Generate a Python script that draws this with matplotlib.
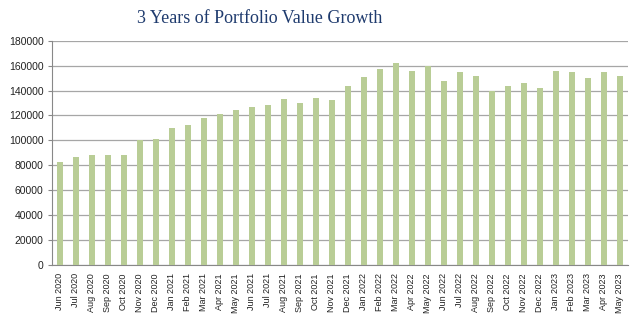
import matplotlib
matplotlib.use("Agg")
import matplotlib.pyplot as plt

# monthly portfolio value, Jun 2020 - May 2023
months = ["Jun 2020", "Jul 2020", "Aug 2020", "Sep 2020", "Oct 2020", "Nov 2020", "Dec 2020",
          "Jan 2021", "Feb 2021", "Mar 2021", "Apr 2021", "May 2021", "Jun 2021", "Jul 2021",
          "Aug 2021", "Sep 2021", "Oct 2021", "Nov 2021", "Dec 2021",
          "Jan 2022", "Feb 2022", "Mar 2022", "Apr 2022", "May 2022", "Jun 2022", "Jul 2022",
          "Aug 2022", "Sep 2022", "Oct 2022", "Nov 2022", "Dec 2022",
          "Jan 2023", "Feb 2023", "Mar 2023", "Apr 2023", "May 2023"]
values = [83000, 87000, 88000, 88000, 88000, 100000, 101000,
          110000, 112000, 118000, 121000, 124000, 127000, 128000,
          133000, 130000, 134000, 132000, 144000,
          151000, 157000, 162000, 156000, 160000, 148000, 155000,
          152000, 140000, 144000, 146000, 142000,
          156000, 155000, 150000, 155000, 152000]
yticks = list(range(0, 180001, 20000))

fig = plt.figure(figsize=(6.4, 3.28), dpi=100)
ax = fig.add_axes([0.081, 0.192, 0.9, 0.684])

x = list(range(len(months)))
ax.bar(x, values, width=0.38, color="#b9cd96", zorder=3)

ax.set_xlim(-0.5, len(months) - 0.5)
ax.set_ylim(0, 180000)
ax.set_yticks(yticks)
ax.set_yticklabels([str(v) for v in yticks], fontsize=7.5, family="Liberation Sans", color="#222222")
ax.set_xticks(x)
ax.set_xticklabels(months, rotation=90, fontsize=6.5, family="Liberation Sans", color="#222222")
ax.tick_params(axis="both", length=3, color="#888888", pad=3)
ax.tick_params(axis="x", length=0, pad=6)

ax.grid(axis="y", color="#a6a6a6", linewidth=0.9, zorder=0)
for s in ["top", "right"]:
    ax.spines[s].set_visible(False)
ax.spines["left"].set_color("#888888")
ax.spines["bottom"].set_color("#888888")

fig.text(0.406, 0.945, "3 Years of Portfolio Value Growth", ha="center", va="center",
         fontsize=13, family="Liberation Serif", color="#1f3b6e")

fig.savefig("out.png", dpi=100, facecolor="white")
